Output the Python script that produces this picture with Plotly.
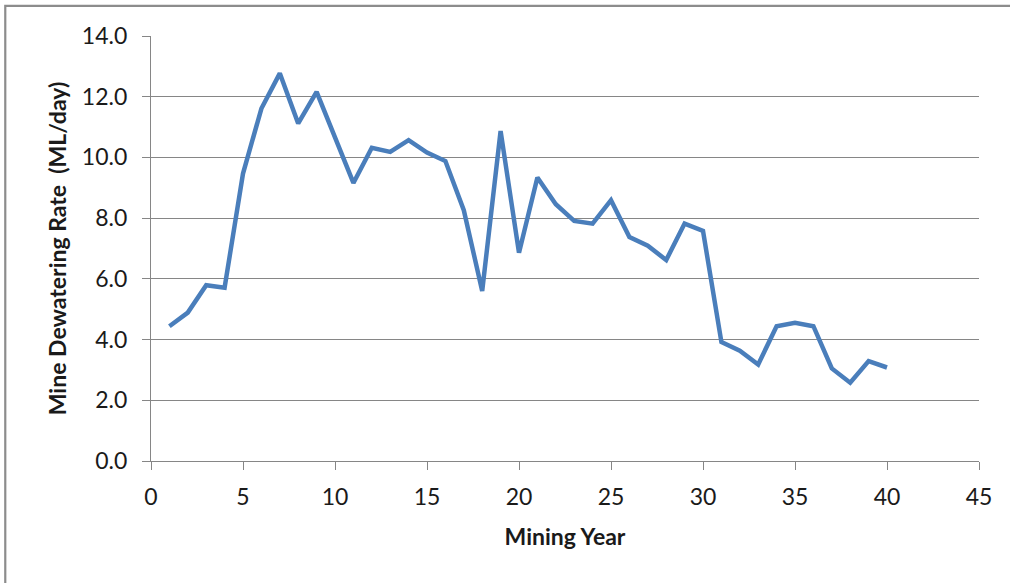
import plotly.graph_objects as go

# Mine dewatering rate by mining year
mining_year = list(range(1, 41))
dewatering_rate = [
    4.44, 4.89, 5.79, 5.71, 9.47, 11.61, 12.77, 11.12, 12.16, 10.68,
    9.16, 10.32, 10.18, 10.57, 10.16, 9.88, 8.26, 5.60, 10.87, 6.86,
    9.34, 8.46, 7.91, 7.82, 8.59, 7.38, 7.09, 6.62, 7.82, 7.58,
    3.92, 3.63, 3.18, 4.44, 4.55, 4.44, 3.05, 2.58, 3.29, 3.08,
]

x_ticks = [0, 5, 10, 15, 20, 25, 30, 35, 40, 45]
y_ticks = [0, 2, 4, 6, 8, 10, 12, 14]

grid_color = "#868686"
font_family = "Lato, 'Open Sans', sans-serif"

fig = go.Figure()
fig.add_trace(go.Scatter(
    x=mining_year,
    y=dewatering_rate,
    mode="lines",
    line=dict(color="#4A7EBB", width=4.5),
    showlegend=False,
))

# Chart-area frame (its right and bottom edges lie beyond the page)
fig.add_shape(
    type="rect", xref="paper", yref="paper",
    x0=-0.176, x1=1.06, y0=-0.33, y1=1.071,
    line=dict(color="#8c8c8c", width=2.2), fillcolor="rgba(0,0,0,0)",
    layer="below",
)

fig.update_layout(
    width=1010, height=583,
    margin=dict(l=151, r=31, t=36, b=122),
    paper_bgcolor="white", plot_bgcolor="white",
    font=dict(family=font_family, color="#1a1a1a", size=23),
    xaxis=dict(
        range=[0, 45], tickvals=x_ticks, ticktext=[str(v) for v in x_ticks],
        showgrid=False, zeroline=False,
        showline=True, linecolor=grid_color, linewidth=1.3,
        ticks="outside", ticklen=8, tickcolor=grid_color, tickwidth=1.3,
        tickfont=dict(size=23), ticklabelstandoff=7,
        title=dict(text="<b>Mining Year</b>", font=dict(size=23), standoff=20),
    ),
    yaxis=dict(
        range=[0, 14], tickvals=y_ticks, ticktext=[f"{v:.1f}" for v in y_ticks],
        showgrid=True, gridcolor=grid_color, gridwidth=1.3,
        zeroline=False,
        showline=True, linecolor=grid_color, linewidth=1.3,
        ticks="outside", ticklen=8, tickcolor=grid_color, tickwidth=1.3,
        tickfont=dict(size=23), ticklabelstandoff=10,
        title=dict(text="<b>Mine Dewatering Rate  (ML/day)</b>", font=dict(size=23), standoff=8),
    ),
)

fig.write_html("out.html")
